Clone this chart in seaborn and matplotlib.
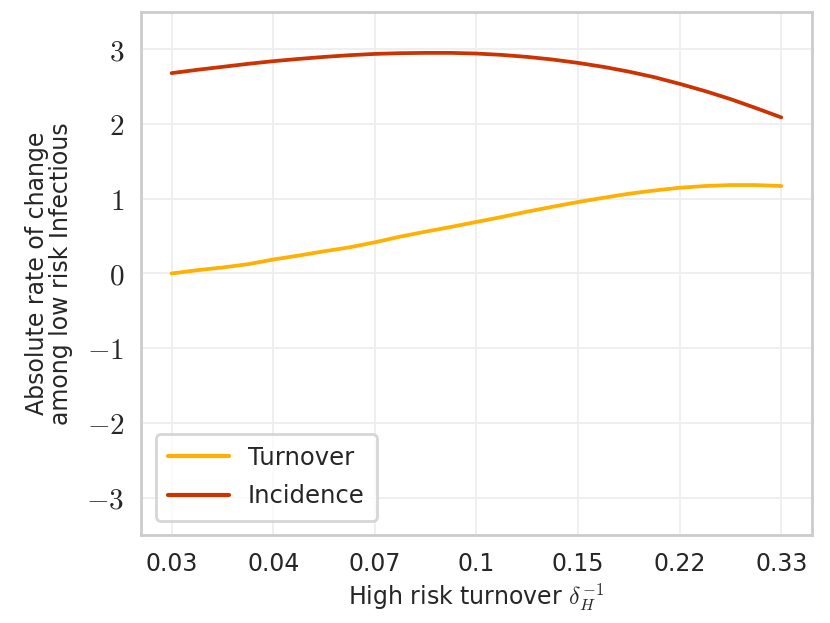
import numpy as np
import pandas as pd
import matplotlib
matplotlib.use("Agg")
import matplotlib.pyplot as plt
import seaborn as sns

# x tick labels (high risk turnover values, evenly spaced positions)
tick_labels = ["0.03", "0.04", "0.07", "0.1", "0.15", "0.22", "0.33"]

# curves read at quarter-step positions along the tick index
x_pos = [0, 0.25, 0.5, 0.75, 1, 1.25, 1.5, 1.75, 2, 2.25, 2.5, 2.75, 3,
         3.25, 3.5, 3.75, 4, 4.25, 4.5, 4.75, 5, 5.25, 5.5, 5.75, 6]
turnover = [0.00, 0.044, 0.08, 0.124, 0.187, 0.24, 0.297, 0.35, 0.417, 0.493,
            0.56, 0.623, 0.69, 0.756, 0.827, 0.893, 0.956, 1.013, 1.067, 1.11,
            1.147, 1.17, 1.183, 1.183, 1.17]
incidence = [2.68, 2.724, 2.764, 2.804, 2.84, 2.87, 2.897, 2.92, 2.937, 2.947,
             2.951, 2.951, 2.942, 2.924, 2.897, 2.862, 2.817, 2.764, 2.70, 2.626,
             2.537, 2.44, 2.333, 2.213, 2.088]

sns.set_theme(style="whitegrid")
plt.rcParams["font.family"] = ["DejaVu Sans"]
plt.rcParams["mathtext.fontset"] = "cm"

df = pd.DataFrame({
    "x": x_pos * 2,
    "value": turnover + incidence,
    "series": ["Turnover"] * len(x_pos) + ["Incidence"] * len(x_pos),
})

fig = plt.figure(figsize=(8.3, 6.23), dpi=100)
ax = fig.add_axes([0.17, 0.141, 0.808, 0.84])

sns.lineplot(data=df, x="x", y="value", hue="series",
             palette={"Turnover": "#ffb000", "Incidence": "#cc3300"},
             linewidth=2.7, ax=ax)

ax.set_ylim(-3.5, 3.5)
ax.set_xticks(range(len(tick_labels)))
ax.set_xticklabels(tick_labels, fontsize=17)
ax.set_yticks([-3, -2, -1, 0, 1, 2, 3])
ax.set_yticklabels([f"${v}$" for v in [-3, -2, -1, 0, 1, 2, 3]], fontsize=21)
ax.tick_params(axis="both", pad=6)

ax.set_xlabel(r"High risk turnover $\delta_H^{-1}$", fontsize=17)
ax.set_ylabel("Absolute rate of change\namong low risk Infectious", fontsize=17,
              linespacing=1.0, labelpad=10)

ax.grid(color="#eeeeee", linewidth=1.3)
for s in ax.spines.values():
    s.set_color("#cccccc")
    s.set_linewidth(2)

leg = ax.legend(loc="lower left", fontsize=17.5, frameon=True, handlelength=2.5,
                borderpad=0.5, labelspacing=0.6, borderaxespad=0.6,
                handletextpad=0.8)
leg.get_frame().set_edgecolor("#cccccc")
leg.get_frame().set_linewidth(2)
for line in leg.get_lines():
    line.set_linewidth(3)

fig.savefig("out.png", dpi=100)
